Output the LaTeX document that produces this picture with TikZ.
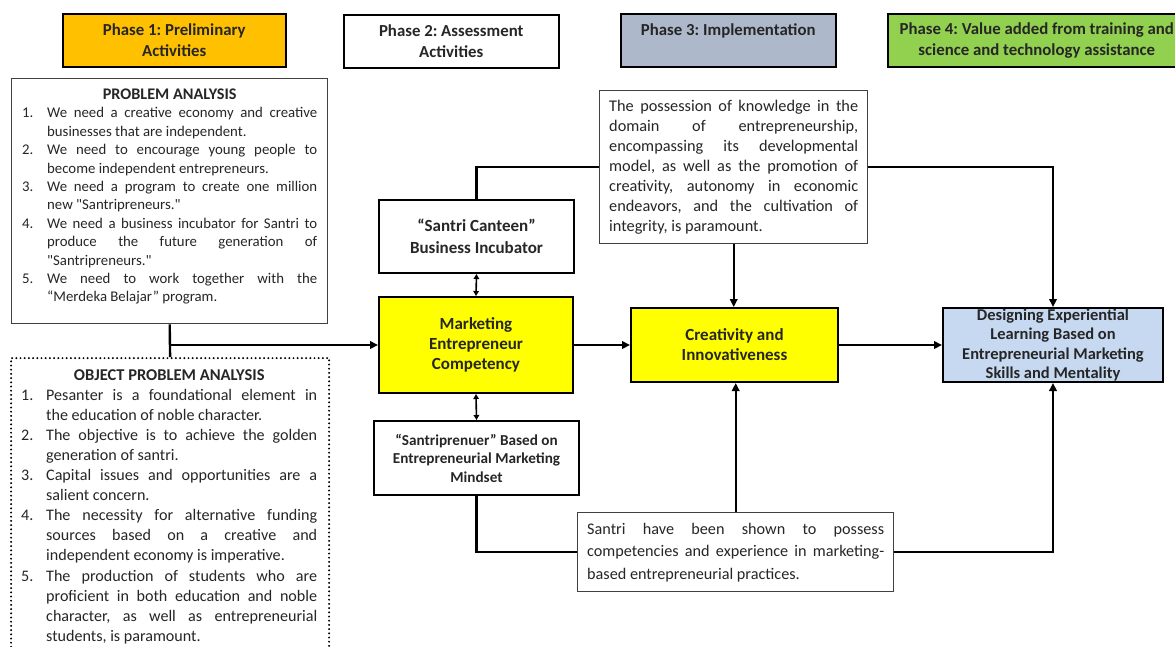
\documentclass[tikz,border=0pt]{standalone}
\usepackage{fontspec}
\setmainfont{Carlito}[Ligatures=TeXOff]
\usetikzlibrary{arrows.meta,calc}
\definecolor{phaseA}{HTML}{FFC000}
\definecolor{phaseC}{HTML}{ADB9CA}
\definecolor{phaseD}{HTML}{92D050}
\definecolor{yel}{HTML}{FFFF00}
\definecolor{lblue}{HTML}{C6D9F1}
\definecolor{txt}{HTML}{262626}
\newcommand\pitem[2]{\hangindent=25pt\hangafter=1\noindent\makebox[25pt][l]{#1}#2\par}
\newcommand\fsz[2]{\fontsize{#1}{#2}\selectfont}
\tolerance=10000 \hbadness=10000 \hyphenpenalty=10000
\frenchspacing
\begin{document}
\begin{tikzpicture}[x=1pt,y=-1pt,
  phase/.style={draw, line width=1.5pt, anchor=north west, align=center, inner sep=0pt, font=\fsz{16.8}{21}\bfseries, text=txt},
  mainbox/.style={draw, line width=2pt, anchor=north west, align=center, inner sep=0pt, font=\fsz{17}{20}\bfseries, text=txt},
  textbox/.style={draw, line width=1.4pt, anchor=north west, inner ysep=0pt, align=justify, text=txt},
  conn/.style={line width=2.4pt},
  arr/.style={conn, -{Triangle[length=8pt,width=7.5pt]}},
  dbl/.style={line width=1.6pt, {Triangle[length=5pt,width=5.5pt]}-{Triangle[length=5pt,width=5.5pt]}}
]
\useasboundingbox (0,0) rectangle (1175,646);
\fill[white] (0,0) rectangle (1175,646);

% phase headers
\node[phase, fill=phaseA, minimum width=223pt, minimum height=53pt] (p1) at (62,13) {Phase 1: Preliminary\\Activities};
\node[phase, fill=white, minimum width=215pt, minimum height=53pt] (p2) at (343,14) {Phase 2: Assessment\\Activities};
\node[phase, fill=phaseC, minimum width=215pt, minimum height=53pt] (p3) at (620,13) {Phase 3: Implementation\\\mbox{}};
\node[phase, fill=phaseD, minimum width=298pt, minimum height=53pt] (p4) at (887,13) {Phase 4: Value added from training and\\science and technology assistance};

% problem analysis
\node[textbox, draw=black!75, minimum width=316pt, minimum height=245pt, inner xsep=10.5pt, text width=295pt, font=\fsz{14.8}{18.4}] (pa) at (11,78) {%
{\centering\bfseries\fsz{16.2}{20}PROBLEM ANALYSIS\par}
\pitem{1.}{We need a creative economy and creative\linebreak businesses that are independent.}
\pitem{2.}{We need to encourage young people to\linebreak become independent entrepreneurs.}
\pitem{3.}{We need a program to create one million\linebreak new "Santripreneurs."}
\pitem{4.}{We need a business incubator for Santri to\linebreak produce the future generation of\linebreak "Santripreneurs."}
\pitem{5.}{We need to work together with the\linebreak “Merdeka Belajar” program.}
\vspace*{9pt}};

% object problem analysis (dotted)
\node[draw, line width=2.2pt, dash pattern=on 0pt off 4.2pt, line cap=round, anchor=north west, minimum width=318pt, minimum height=310pt, inner sep=0pt] (opa) at (10,357) {};
\node[anchor=north west, inner xsep=11pt, inner ysep=0pt, text width=296pt, align=justify, font=\fsz{16.1}{20.1}, text=txt] (opat) at (10,369) {%
{\centering\bfseries\fsz{16.5}{21}OBJECT PROBLEM ANALYSIS\par}
\pitem{1.}{Pesanter is a foundational element in\linebreak the education of noble character.}
\pitem{2.}{The objective is to achieve the golden\linebreak generation of santri.}
\pitem{3.}{Capital issues and opportunities are a\linebreak salient concern.}
\pitem{4.}{The necessity for alternative funding\linebreak sources based on a creative and\linebreak independent economy is imperative.}
\pitem{5.}{The production of students who are\linebreak proficient in both education and noble\linebreak character, as well as entrepreneurial\linebreak students, is paramount.}};

% central boxes
\node[mainbox, fill=white, minimum width=195pt, minimum height=73pt, font=\fsz{17}{22}\bfseries] (sc) at (378,199) {“Santri Canteen”\\Business Incubator};
\node[mainbox, fill=yel, minimum width=194pt, minimum height=96pt] (mec) at (378,296) {Marketing\\Entrepreneur\\Competency};
\node[mainbox, fill=white, minimum width=205pt, minimum height=74pt, font=\fsz{15.2}{18.5}\bfseries] (sp) at (373,420) {“Santriprenuer” Based on\\Entrepreneurial Marketing\\Mindset};
\node[mainbox, fill=yel, minimum width=207pt, minimum height=74pt] (cre) at (630,307) {Creativity and\\Innovativeness};
\node[mainbox, fill=lblue, minimum width=220pt, minimum height=74pt, font=\fsz{16.5}{19.5}\bfseries] (des) at (942,307) {Designing Experiential\\Learning Based on\\Entrepreneurial Marketing\\Skills and Mentality};

% knowledge box
\node[textbox, fill=white, draw=black!75, minimum width=268pt, minimum height=153pt, inner xsep=9.5pt, text width=249pt, font=\fsz{16.3}{20}] (kn) at (599,90) {%
The possession of knowledge in the\linebreak domain of entrepreneurship,\linebreak encompassing its developmental\linebreak model, as well as the promotion of\linebreak creativity, autonomy in economic\linebreak endeavors, and the cultivation of\linebreak integrity, is paramount.};

% santri box
\node[textbox, fill=white, draw=black!75, minimum width=316pt, minimum height=79pt, inner xsep=9.5pt, text width=297pt, font=\fsz{16.2}{22.5}] (sb) at (577,512) {%
Santri have been shown to possess\linebreak competencies and experience in marketing-\linebreak based entrepreneurial practices.};

% connectors
\draw[conn] (pa.south) -- (opa.north);
\draw[arr] (pa.south |- mec.west) -- (mec.west);
\draw[arr] (mec.east) -- (cre.west);
\draw[arr] (cre.east) -- (des.west);
\draw[dbl] (sc.south) -- (mec.north);
\draw[dbl] (mec.south) -- (sp.north);
\draw[conn] (sc.north) |- (kn.west);
\draw[arr] (kn.east) -| (des.north);
\draw[arr] (kn.south) -- (kn.south |- cre.north);
\draw[conn] (sp.south) |- (sb.west);
\draw[arr] (sb.north) -- (sb.north |- cre.south);
\draw[arr] (sb.east) -| (des.south);
\end{tikzpicture}
\end{document}
